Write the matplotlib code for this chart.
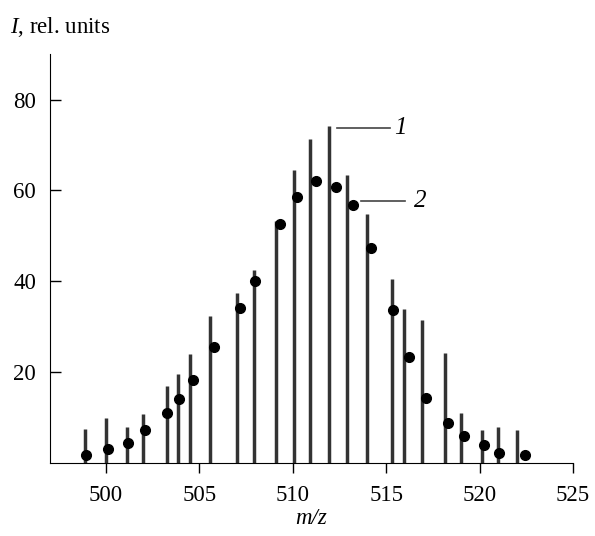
import matplotlib.pyplot as plt

# line spectrum (curve 1)
mz_lines = [498.9, 500.0, 501.15, 502.0, 503.25, 503.85, 504.5, 505.55, 507.0, 507.9,
            509.1, 510.05, 510.9, 511.95, 512.9, 513.95, 515.3, 515.95, 516.9, 518.15,
            519.0, 520.15, 521.0, 522.0]
I_lines = [7.6, 10.0, 8.0, 10.9, 16.9, 19.5, 24.0, 32.3, 37.5, 42.6,
           53.3, 64.5, 71.3, 74.1, 63.5, 54.8, 40.6, 33.9, 31.6, 24.2,
           11.1, 7.2, 8.0, 7.2]

# points (curve 2)
mz_pts = [498.95, 500.1, 501.2, 502.1, 503.25, 503.9, 504.65, 505.8, 507.15, 508.0,
          509.3, 510.25, 511.25, 512.3, 513.2, 514.2, 515.35, 516.2, 517.15, 518.3,
          519.15, 520.25, 521.05, 522.45]
I_pts = [1.8, 3.0, 4.5, 7.2, 11.1, 14.2, 18.2, 25.6, 34.2, 40.1,
         52.6, 58.5, 62.0, 60.7, 56.8, 47.4, 33.7, 23.4, 14.4, 8.9,
         5.9, 3.9, 2.3, 1.8]

plt.rcParams['font.family'] = ['Liberation Serif', 'DejaVu Serif']
plt.rcParams['font.size'] = 16.5
plt.rcParams['mathtext.fontset'] = 'custom'
plt.rcParams['mathtext.rm'] = 'Liberation Serif'
plt.rcParams['mathtext.it'] = 'Liberation Serif:italic'

fig = plt.figure(figsize=(5.95, 5.36), dpi=100)
ax = fig.add_axes([0.084, 0.136, 0.879, 0.763])

ax.vlines(mz_lines, 0, I_lines, color='#333333', linewidth=2.5)
ax.plot(mz_pts, I_pts, 'o', color='black', markersize=7, zorder=3)

# curve labels
ax.plot([512.35, 515.2], [73.7, 73.7], color='#444444', linewidth=1.2)
ax.text(515.45, 73.7, '1', style='italic', va='center', ha='left', fontsize=18)
ax.plot([513.65, 516.0], [57.6, 57.6], color='#444444', linewidth=1.2)
ax.text(516.5, 57.6, '2', style='italic', va='center', ha='left', fontsize=18)

ax.set_xlim(497, 525)
ax.set_ylim(0, 90)
ax.set_xticks([500, 505, 510, 515, 520, 525])
ax.set_yticks([20, 40, 60, 80])
ax.tick_params(axis='x', direction='out', length=7, width=1, pad=9)
ax.tick_params(axis='y', direction='in', length=8, width=1, pad=10)
ax.spines['top'].set_visible(False)
ax.spines['right'].set_visible(False)

ax.set_xlabel('m/z', style='italic', labelpad=1)
fig.text(0.017, 0.95, '$I$, rel. units', ha='left', va='center')

fig.savefig('out.png', dpi=100)
